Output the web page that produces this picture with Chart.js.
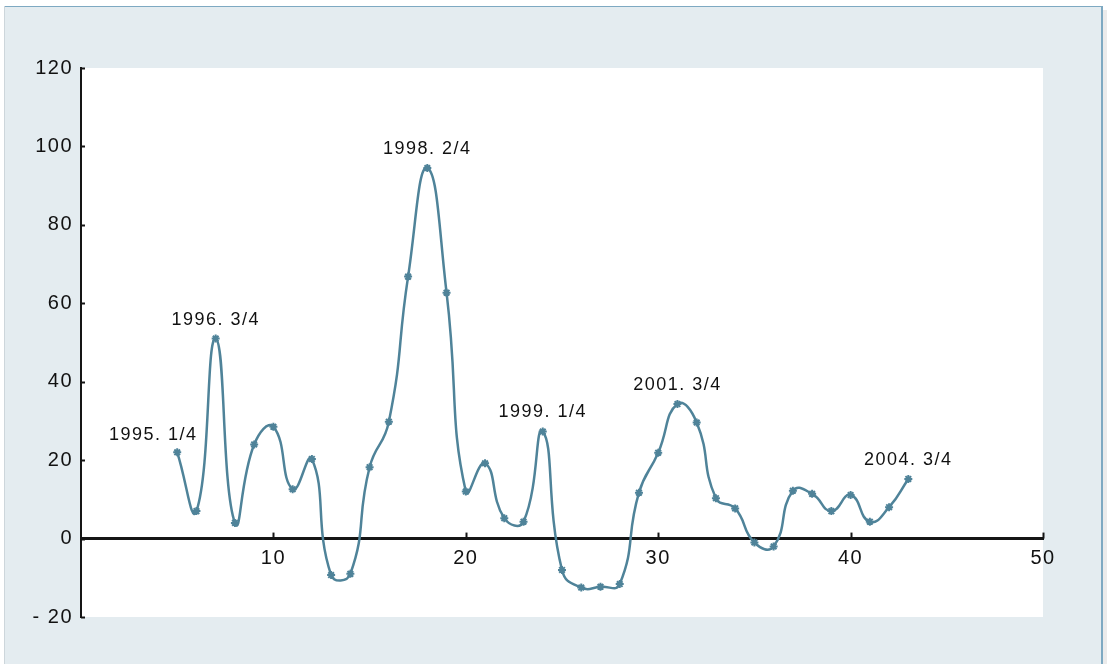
<!DOCTYPE html>
<html>
<head>
<meta charset="utf-8">
<script src="https://cdn.jsdelivr.net/npm/chart.js@4/dist/chart.umd.min.js"></script>
<style>
  html, body { margin: 0; padding: 0; background: #fff; }
  #wrap { width: 1107px; height: 664px; }
</style>
</head>
<body>
<div id="wrap"><canvas id="myChart" width="1107" height="664"></canvas></div>
<script>
// quarter index (x) and value (y)
var periods = [5, 6, 7, 8, 9, 10, 11, 12, 13, 14, 15, 16, 17, 18, 19, 20, 21, 22, 23, 24,
               25, 26, 27, 28, 29, 30, 31, 32, 33, 34, 35, 36, 37, 38, 39, 40, 41, 42, 43];
var values = [22, 7, 51, 4, 24, 28.5, 12.6, 20.3, -9.3, -9, 18.2, 29.8, 66.8, 94.5, 62.7, 12, 19.2, 5.2, 4.3, 27.3,
              -8, -12.5, -12.3, -11.6, 11.7, 21.9, 34.3, 29.6, 10.3, 7.7, -1, -2, 12.2, 11.4, 7, 11.1, 4.3, 8, 15.2];
var xTicks = [10, 20, 30, 40, 50];
var yTicks = [-20, 0, 20, 40, 60, 80, 100, 120];

// labelled quarters
var notePeriods = [5, 7, 18, 24, 31, 43];
var noteTexts = ['1995. 1/4', '1996. 3/4', '1998. 2/4', '1999. 1/4', '2001. 3/4', '2004. 3/4'];

var points = periods.map(function(p, i) { return { x: p, y: values[i] }; });

var lineColor = '#4f8399';
var axisColor = '#151515';
var fontFamily = '"Liberation Sans", Arial, sans-serif';

var decor = {
  id: 'decor',
  beforeDraw: function(chart) {
    var ctx = chart.ctx, a = chart.chartArea;
    ctx.save();
    // outer panel
    ctx.fillStyle = '#e4ecf0';
    ctx.fillRect(4, 6, 1098, 658);
    ctx.fillStyle = '#7ea9c2';
    ctx.fillRect(4, 6, 1098, 1);
    ctx.fillRect(1101, 6, 2, 658);
    ctx.fillStyle = '#cdd6db';
    ctx.fillRect(4, 6, 1, 658);
    ctx.fillStyle = '#ebebeb';
    ctx.fillRect(1103, 10, 4, 654);
    // plot area
    ctx.fillStyle = '#ffffff';
    ctx.fillRect(a.left, a.top, a.right - a.left, a.bottom - a.top);
    ctx.restore();
    ctx.letterSpacing = '1.5px';
  },
  afterDraw: function(chart) {
    var ctx = chart.ctx;
    var xs = chart.scales.x, ys = chart.scales.y;
    ctx.save();
    ctx.strokeStyle = axisColor;
    ctx.lineWidth = 2;
    // x tick marks pointing up
    var y0 = ys.getPixelForValue(0);
    xTicks.forEach(function(t) {
      var px = Math.round(xs.getPixelForValue(t)) + 0.5;
      ctx.beginPath();
      ctx.moveTo(px, y0);
      ctx.lineTo(px, y0 - 6);
      ctx.stroke();
    });
    // y tick marks pointing right
    var x0 = chart.chartArea.left;
    yTicks.forEach(function(t) {
      var py = Math.round(ys.getPixelForValue(t)) + 0.5;
      ctx.beginPath();
      ctx.moveTo(x0, py);
      ctx.lineTo(x0 + 4, py);
      ctx.stroke();
    });
    // notes
    ctx.letterSpacing = '1.5px';
    ctx.font = '18px ' + fontFamily;
    ctx.fillStyle = '#111';
    ctx.textAlign = 'center';
    ctx.textBaseline = 'middle';
    notePeriods.forEach(function(p, i) {
      var v = values[periods.indexOf(p)];
      var dx = (i === 0) ? -24 : 0;
      var dy = (i === 0) ? -17 : -19;
      ctx.fillText(noteTexts[i], xs.getPixelForValue(p) + dx, ys.getPixelForValue(v) + dy);
    });
    ctx.restore();
  }
};

var ctx = document.getElementById('myChart');
var myChart = new Chart(ctx, {
  type: 'line',
  data: {
    datasets: [{
      data: points,
      borderColor: lineColor,
      backgroundColor: lineColor,
      borderWidth: 2.5,
      tension: 0.5,
      pointStyle: 'star',
      pointRadius: 4,
      pointBorderWidth: 2,
      pointBorderColor: lineColor,
      fill: false
    }]
  },
  options: {
    responsive: false,
    animation: false,
    layout: { padding: { left: 0, top: 68, right: 64, bottom: 47 } },
    plugins: {
      legend: { display: false },
      tooltip: { enabled: false }
    },
    scales: {
      x: {
        type: 'linear',
        position: { y: 0 },
        min: 0,
        max: 50,
        grid: { display: false, drawTicks: false },
        border: { display: true, color: axisColor, width: 3 },
        ticks: {
          stepSize: 10,
          padding: 8,
          color: '#111',
          font: { family: fontFamily, size: 20 },
          maxRotation: 0,
          callback: function(value) { return value === 0 ? '' : value; }
        }
      },
      y: {
        min: -20,
        max: 120,
        grid: { display: false, drawTicks: false },
        border: { display: true, color: axisColor, width: 2 },
        afterFit: function(scale) { scale.width = 81; },
        ticks: {
          stepSize: 20,
          padding: 8,
          color: '#111',
          font: { family: fontFamily, size: 20 },
          callback: function(value) { return value < 0 ? '- ' + Math.abs(value) : value; }
        }
      }
    }
  },
  plugins: [decor]
});
</script>
</body>
</html>
